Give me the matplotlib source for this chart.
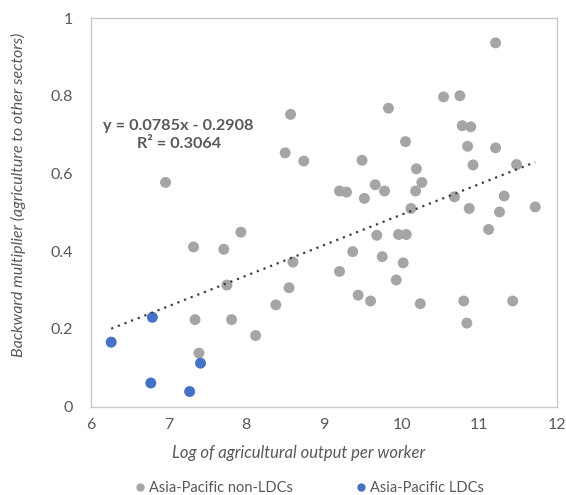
"""Backward multiplier vs. log agricultural output per worker."""

import numpy as np
import matplotlib
matplotlib.use("Agg")
import matplotlib.pyplot as plt
from matplotlib.lines import Line2D

# Asia-Pacific non-LDCs
non_ldc_x = [8.57, 8.50, 8.74, 6.96, 11.21, 10.54, 10.75, 9.83, 10.78, 10.89,
             10.05, 10.85, 11.21, 9.49, 10.19, 10.92, 11.48, 10.26, 9.20, 9.29,
             9.66, 9.78, 9.52, 10.18, 10.68, 11.32, 10.87, 11.26, 11.72, 10.12,
             11.12, 9.68, 9.96, 10.06, 9.37, 9.75, 10.02, 9.20, 9.93, 9.44,
             9.60, 10.24, 10.80, 11.43, 10.84, 7.93, 7.32, 7.71, 8.60, 8.55,
             7.75, 8.38, 7.34, 7.81, 8.12, 7.39]
non_ldc_y = [0.752, 0.653, 0.632, 0.577, 0.936, 0.797, 0.800, 0.768, 0.723, 0.720,
             0.682, 0.670, 0.666, 0.634, 0.612, 0.622, 0.623, 0.577, 0.555, 0.552,
             0.571, 0.555, 0.536, 0.555, 0.540, 0.542, 0.510, 0.501, 0.514, 0.510,
             0.456, 0.441, 0.443, 0.443, 0.399, 0.386, 0.370, 0.348, 0.326, 0.287,
             0.272, 0.265, 0.272, 0.272, 0.215, 0.449, 0.411, 0.405, 0.372, 0.306,
             0.313, 0.262, 0.224, 0.224, 0.183, 0.138]

# Asia-Pacific LDCs
ldc_x = [6.26, 6.79, 7.41, 6.77, 7.27]
ldc_y = [0.166, 0.230, 0.112, 0.061, 0.039]

# linear trend over all countries
slope = 0.0785
intercept = -0.2908
r_squared = 0.3064

GREY = "#A5A5A5"
BLUE = "#4472C4"
TEXT = "#595959"

plt.rcParams["font.family"] = ["Lato", "DejaVu Sans"]

fig = plt.figure(figsize=(5.66, 4.95), dpi=100)
ax = fig.add_axes([0.1608, 0.1784, 0.8232, 0.7852])

ax.scatter(non_ldc_x, non_ldc_y, s=62, color=GREY, edgecolors="none", zorder=3)
ax.scatter(ldc_x, ldc_y, s=62, color=BLUE, edgecolors="none", zorder=3)

all_x = np.array(non_ldc_x + ldc_x)
tx = np.array([all_x.min(), all_x.max()])
ax.plot(tx, slope*tx + intercept, color="#404040", linestyle=(0, (1, 2.2)),
        linewidth=1.6, zorder=4)

ax.text(0.188, 0.70, f"y = {slope}x - {abs(intercept)}\nR² = {r_squared}",
        transform=ax.transAxes, ha="center", va="center", fontsize=11.7,
        fontweight="bold", color=TEXT, linespacing=1.35)

ax.set_xlim(6, 12)
ax.set_ylim(0, 1)
ax.set_xticks(range(6, 13))
ax.set_yticks([0, 0.2, 0.4, 0.6, 0.8, 1])
ax.set_yticklabels(["0", "0.2", "0.4", "0.6", "0.8", "1"])
ax.tick_params(axis="both", length=0, labelsize=11.5, labelcolor=TEXT)
ax.tick_params(axis="y", pad=13)
ax.tick_params(axis="x", pad=8)
for sp in ax.spines.values():
    sp.set_color("#C8C8C8")
    sp.set_linewidth(1.0)

ax.set_xlabel("Log of agricultural output per worker", fontsize=12,
              style="italic", color=TEXT)
ax.xaxis.set_label_coords(0.446, -0.099)
ax.set_ylabel("Backward multiplier (agriculture to other sectors)", fontsize=11.5,
              style="italic", color=TEXT)
ax.yaxis.set_label_coords(-0.139, 0.545)

handles = [Line2D([], [], marker="o", linestyle="none", markersize=6,
                  markerfacecolor=GREY, markeredgecolor="none"),
           Line2D([], [], marker="o", linestyle="none", markersize=6,
                  markerfacecolor=BLUE, markeredgecolor="none")]
fig.legend(handles, ["Asia-Pacific non-LDCs", "Asia-Pacific LDCs"],
           loc="center", bbox_to_anchor=(0.545, 0.014), ncol=2, frameon=False,
           fontsize=10.5, labelcolor=TEXT, handletextpad=0.1, columnspacing=4.2,
           handlelength=1.0)

fig.savefig("out.png", dpi=100)
